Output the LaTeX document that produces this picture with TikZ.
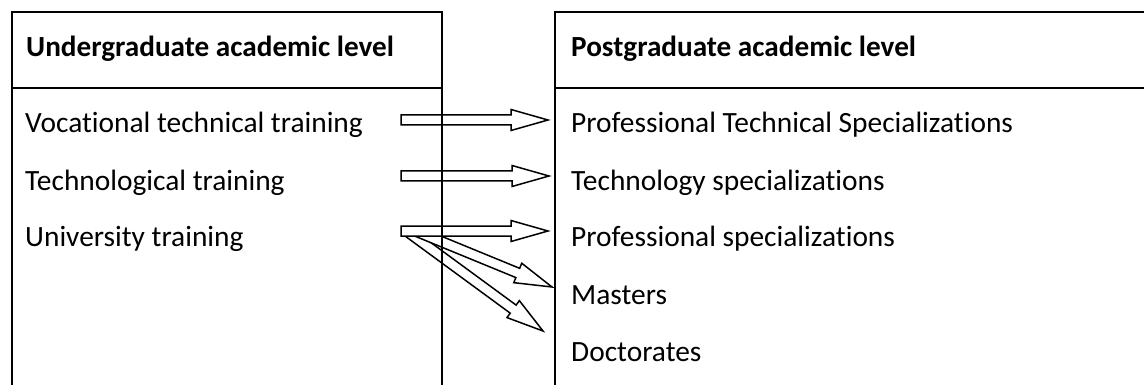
\documentclass[tikz,border=0pt]{standalone}
\usepackage{fontspec}
\setmainfont{Carlito}[Ligatures=NoCommon]
\usetikzlibrary{calc}
\tikzset{
  boxline/.style={line width=1.8pt, line cap=rect},
  txt/.style={anchor=base west, inner sep=0pt, font=\fontsize{29.4}{35}\selectfont},
  hdr/.style={txt, font=\fontsize{29.2}{35}\selectfont\bfseries},
  blockarrow/.style={draw=black, fill=white, line width=1.5pt, line join=miter},
}
\newcommand\blockarr[2]{%
  \coordinate (#1-h) at ($(#2)!37pt!(#1)$);
  \draw[blockarrow]
    ($(#1)!5pt!90:(#2)$) -- ($(#1-h)!5pt!90:(#2)$) -- ($(#1-h)!10.5pt!90:(#2)$)
    -- (#2) -- ($(#1-h)!10.5pt!-90:(#2)$) -- ($(#1-h)!5pt!-90:(#2)$)
    -- ($(#1)!5pt!-90:(#2)$) -- cycle;
}
\begin{document}
\begin{tikzpicture}[x=1pt,y=-1pt]
\useasboundingbox (0,0) rectangle (1144,385);
\clip (0,0) rectangle (1144,385);
% texts
\node[hdr] (ug) at (26,57) {Undergraduate academic level};
\node[hdr] (pg) at (571,57) {Postgraduate academic level};
\node[txt] (l1) at (25,133) {Vocational technical training};
\node[txt] (l2) at (25,190) {Technological training};
\node[txt] (l3) at (25,247) {University training};
\node[txt] (r1) at (571,133) {Professional Technical Specializations};
\node[txt] (r2) at (571,190) {Technology specializations};
\node[txt] (r3) at (571,247) {Professional specializations};
\node[txt] (r4) at (571,304) {Masters};
\node[txt] (r5) at (571,361) {Doctorates};
% arrow end points
\coordinate (a1s) at (401,120); \coordinate (a1t) at (548,120);
\coordinate (a2s) at (401,176); \coordinate (a2t) at (549,176);
\coordinate (a3s) at (401,231); \coordinate (a3t) at (548,231);
\coordinate (a4s) at (418,232); \coordinate (a4t) at (552,287);
\coordinate (a5s) at (408,232); \coordinate (a5t) at (543,331);
\blockarr{a5s}{a5t}
\blockarr{a4s}{a4t}
\blockarr{a3s}{a3t}
\blockarr{a2s}{a2t}
\blockarr{a1s}{a1t}
% boxes
\draw[boxline] (12,400) -- (12,11.7) -- (442,11.7) -- (442,400);
\draw[boxline] (12,88) -- (442,88);
\draw[boxline] (555,400) -- (555,11.7) -- (1160,11.7);
\draw[boxline] (555,88) -- (1160,88);
\end{tikzpicture}
\end{document}
